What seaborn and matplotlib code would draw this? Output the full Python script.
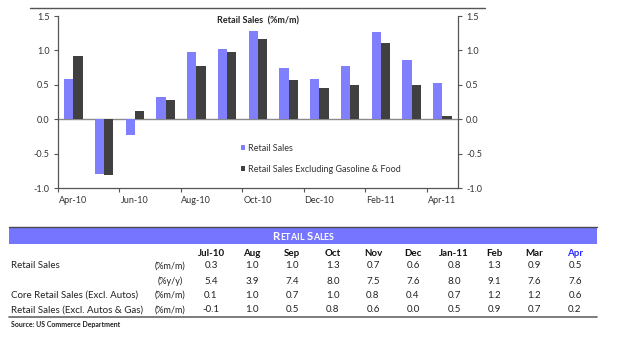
import matplotlib
matplotlib.use("Agg")
import matplotlib.pyplot as plt
from matplotlib.patches import Patch, Rectangle
from matplotlib.lines import Line2D
import seaborn as sns
import pandas as pd

# Monthly retail sales, % m/m
months = ["Apr-10", "May-10", "Jun-10", "Jul-10", "Aug-10", "Sep-10", "Oct-10",
          "Nov-10", "Dec-10", "Jan-11", "Feb-11", "Mar-11", "Apr-11"]
retail_sales = [0.58, -0.79, -0.23, 0.32, 0.97, 1.02, 1.28, 0.74, 0.58, 0.77, 1.27, 0.86, 0.52]
retail_ex_gas_food = [0.92, -0.81, 0.12, 0.28, 0.77, 0.98, 1.17, 0.57, 0.46, 0.49, 1.11, 0.49, 0.04]
series_names = ["Retail Sales", "Retail Sales Excluding Gasoline & Food"]
y_ticks = [-1.0, -0.5, 0.0, 0.5, 1.0, 1.5]

# Summary table
table_title = "Retail Sales"
table_cols = ["Jul-10", "Aug", "Sep", "Oct", "Nov", "Dec", "Jan-11", "Feb", "Mar", "Apr"]
row_labels = ["Retail Sales", "", "Core Retail Sales (Excl. Autos)", "Retail Sales (Excl. Autos & Gas)"]
row_units = ["(%m/m)", "(%y/y)", "(%m/m)", "(%m/m)"]
rs_mm = [0.3, 1.0, 1.0, 1.3, 0.7, 0.6, 0.8, 1.3, 0.9, 0.5]
rs_yy = [5.4, 3.9, 7.4, 8.0, 7.5, 7.6, 8.0, 9.1, 7.6, 7.6]
core_mm = [0.1, 1.0, 0.7, 1.0, 0.8, 0.4, 0.7, 1.2, 1.2, 0.6]
ex_autos_gas_mm = [-0.1, 1.0, 0.5, 0.8, 0.6, 0.0, 0.5, 0.9, 0.7, 0.2]

df = pd.DataFrame({
    "month": months * 2,
    "value": retail_sales + retail_ex_gas_food,
    "series": [series_names[0]] * len(months) + [series_names[1]] * len(months),
})

sns.set_style("white")
plt.rcParams["font.family"] = ["Lato", "DejaVu Sans"]

W, H = 640, 349
fig = plt.figure(figsize=(W / 100, H / 100), dpi=100)


def fx(px):
    return px / W


def fy(py):
    return 1 - py / H


ax = fig.add_axes([fx(58), fy(188), fx(457.7) - fx(58), fy(16) - fy(188)])
colors = {series_names[0]: "#8080FF", series_names[1]: "#404040"}
sns.barplot(data=df, x="month", y="value", hue="series", order=months,
            hue_order=series_names, palette=colors, width=0.6, linewidth=0,
            saturation=1, ax=ax, legend=False)

ax.set_xlim(-0.5, len(months) - 0.5)
ax.set_ylim(-1.0, 1.5)
ax.set_xlabel("")
ax.set_ylabel("")
ax.axhline(0, color="#8a8a8a", lw=1.0, zorder=0.5)

ax.set_yticks(y_ticks)
ax.set_yticklabels([f"{v:.1f}" for v in y_ticks])
ax.tick_params(axis="y", which="both", left=True, right=True, labelleft=True,
               labelright=True, length=3, width=0.8, color="#555555",
               labelsize=6.5, labelcolor="#333333", pad=3, direction="out")

# Month labels on every other category, tick marks on category boundaries
ax.set_xticks([i - 0.5 for i in range(0, len(months), 2)])
ax.set_xticklabels([])
ax.set_xticks(list(range(0, len(months), 2)), minor=True)
ax.set_xticklabels(months[::2], minor=True)
ax.tick_params(axis="x", which="major", bottom=True, length=3, width=0.8,
               color="#555555", direction="out")
ax.tick_params(axis="x", which="minor", bottom=True, length=0, labelsize=6.5,
               labelcolor="#333333", pad=6)

for side in ["left", "right", "bottom"]:
    ax.spines[side].set_visible(True)
    ax.spines[side].set_color("#555555")
    ax.spines[side].set_linewidth(0.9)
ax.spines["top"].set_visible(False)

fig.text(fx(258), fy(21), "Retail Sales  (%m/m)", ha="center", va="center",
         fontsize=6.5, fontweight="bold", color="#222222")

handles = [Patch(facecolor=colors[s], edgecolor="none", label=s) for s in series_names]
ax.legend(handles=handles, loc="center left", frameon=False, fontsize=6.5,
          handlelength=0.45, handleheight=0.45, handletextpad=0.3,
          labelspacing=1.3, borderpad=0, borderaxespad=0,
          bbox_to_anchor=(fx(241), fy(159)), bbox_transform=fig.transFigure,
          labelcolor="#333333")

# Rule above the chart
fig.add_artist(Line2D([fx(30), fx(485)], [fy(8), fy(8)], color="#555555", lw=1.0,
                      transform=fig.transFigure))

# Table header band
fig.add_artist(Rectangle((fx(9), fy(244)), fx(597) - fx(9), fy(227) - fy(244),
                         facecolor="#7575FF", edgecolor="none", transform=fig.transFigure))
fig.add_artist(Line2D([fx(9), fx(597)], [fy(227), fy(227)], color="#4a4a4a", lw=1.0,
                      transform=fig.transFigure))


def small_caps(text, x_center, y_base, big=8.2, small=6.4, **kw):
    """Draw text in small capitals, centred on x_center (pixels)."""
    renderer = fig.canvas.get_renderer()
    pieces = []
    for ch in text:
        if ch.isupper() or ch == " ":
            pieces.append((ch, big))
        else:
            pieces.append((ch.upper(), small))
    artists, widths = [], []
    for ch, size in pieces:
        t = fig.text(0, fy(y_base), ch, ha="left", va="baseline", fontsize=size, **kw)
        artists.append(t)
        widths.append(t.get_window_extent(renderer).width if ch != " " else size * 0.35)
    total = sum(widths)
    x = x_center - total / 2
    for t, w in zip(artists, widths):
        t.set_x(fx(x))
        x += w


small_caps(table_title, 303, 240, fontweight="bold", color="white")

col_x = [211, 252, 292, 333, 373, 413, 454, 494, 534, 575]
for i, (c, x) in enumerate(zip(table_cols, col_x)):
    fig.text(fx(x), fy(253), c, ha="center", va="center", fontsize=7,
             fontweight="bold", color="#2a2aff" if i == len(table_cols) - 1 else "#111111")

row_y = [266, 281, 295, 310]
rows = [rs_mm, rs_yy, core_mm, ex_autos_gas_mm]
for label, unit, vals, y in zip(row_labels, row_units, rows, row_y):
    fig.text(fx(11), fy(y), label, ha="left", va="center", fontsize=7, color="#222222")
    fig.text(fx(170), fy(y), unit, ha="center", va="center", fontsize=6.5, color="#222222")
    for v, x in zip(vals, col_x):
        fig.text(fx(x), fy(y), f"{v:.1f}", ha="center", va="center", fontsize=7,
                 color="#222222")

fig.add_artist(Line2D([fx(9), fx(597)], [fy(317), fy(317)], color="#666666", lw=1.2,
                      transform=fig.transFigure))
fig.text(fx(11), fy(324), "Source: US Commerce Department", ha="left", va="center",
         fontsize=5, fontweight="bold", color="#222222")

fig.savefig("out.png", dpi=100)
